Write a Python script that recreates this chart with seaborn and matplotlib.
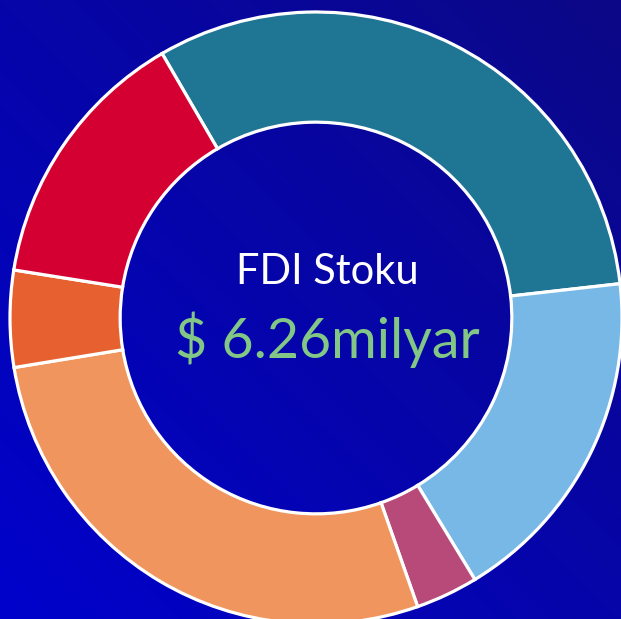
import matplotlib
matplotlib.use("Agg")
import matplotlib.pyplot as plt
import numpy as np
import seaborn as sns

shares = [31.6, 18.1, 3.3, 27.8, 5.1, 14.1]
colors = ["#1E7594", "#78B8E6", "#B84A7A", "#F0955D", "#E66030", "#D50032"]
title_text = "FDI Stoku"
value_text = "$ 6.26milyar"

sns.set_theme(style="white")
plt.rcParams["font.family"] = ["Lato", "DejaVu Sans"]

W, H, DPI = 621, 619, 100
fig = plt.figure(figsize=(W / DPI, H / DPI), dpi=DPI)
ax = fig.add_axes([0, 0, 1, 1])

# ── Background: diagonal blue gradient (bright bottom-left → dark top-right) ──
c0 = np.array([0, 2, 204]) / 255
c1 = np.array([12, 8, 134]) / 255
u = np.linspace(0, 1, 256)
uu, vv = np.meshgrid(u, u)
t = (uu + vv) / 2
grad = c0 + (c1 - c0) * t[..., None]

cx, cy, R = 316, 318, 306  # pixel centre and outer radius
xlim = (-cx / R, (W - cx) / R)
ylim = (-(H - cy) / R, cy / R)
ax.imshow(grad, origin="lower", extent=[*xlim, *ylim], zorder=0, aspect="auto")

ax.pie(
    shares,
    colors=colors,
    startangle=120.2,
    counterclock=False,
    radius=1,
    wedgeprops=dict(width=0.36, edgecolor="white", linewidth=2.3),
)

ax.text(0.036, 0.15, title_text, ha="center", va="center", color="white", fontsize=30)
ax.text(0.036, -0.07, value_text, ha="center", va="center", color="#82C785", fontsize=40)

ax.set_xlim(*xlim)
ax.set_ylim(*ylim)
ax.set_aspect("auto")
ax.axis("off")

fig.savefig("out.png", dpi=DPI)
